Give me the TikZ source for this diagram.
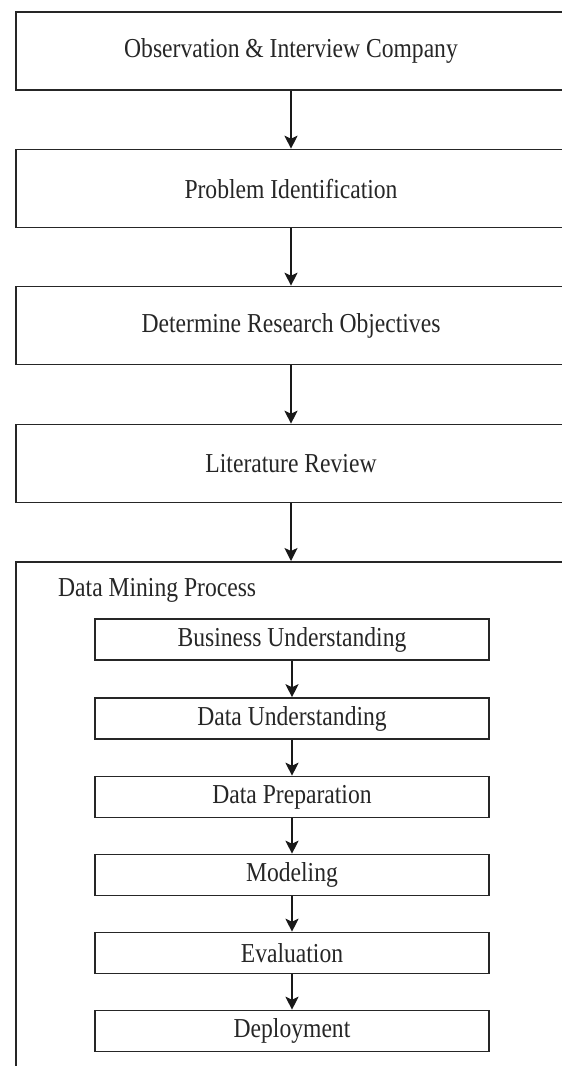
\documentclass[tikz,border=0pt]{standalone}
\usepackage{fontspec}
\setmainfont{Liberation Serif}
\usetikzlibrary{arrows.meta}
\newcommand{\vstr}[1]{\scalebox{1}[1.16]{#1}}
\begin{document}
\begin{tikzpicture}[x=1pt,y=-1pt,
  stepbig/.style={draw=black!85, line width=1.6pt, minimum width=550pt, minimum height=78pt,
    inner sep=0pt, text=black!85, font=\fontsize{23.6}{28}\selectfont},
  stepsmall/.style={draw=black!85, line width=1.6pt, minimum width=394pt, minimum height=41pt,
    inner sep=0pt, text=black!85, font=\fontsize{23.6}{28}\selectfont},
  container/.style={draw=black!85, line width=1.6pt, minimum width=550pt, minimum height=560pt, inner sep=0pt},
  titletext/.style={text=black!85, font=\fontsize{23.6}{28}\selectfont, inner sep=0pt},
  arr/.style={-{Stealth[length=13pt,width=13pt,inset=3pt]}, line width=1.6pt, draw=black!90}]
\useasboundingbox (0,0) rectangle (562,1066);
\clip (0,0) rectangle (562,1066);
\fill[white] (0,0) rectangle (562,1066);

\node[stepbig] (obs)  at (291,51)    {\vstr{Observation \& Interview Company}};
\node[stepbig] (prob) at (291,188.5) {\vstr{Problem Identification}};
\node[stepbig] (obj)  at (291,325.5) {\vstr{Determine Research Objectives}};
\node[stepbig] (lit)  at (291,463.5) {\vstr{Literature Review}};

\node[container, anchor=north] (dm) at (291,561) {};
\node[titletext, anchor=west] (title) at (58,590) {\vstr{Data Mining Process}};

\node[stepsmall] (bu)  at (292,639.5) {\vstr{Business Understanding}};
\node[stepsmall] (du)  at (292,718.5) {\vstr{Data Understanding}};
\node[stepsmall] (dp)  at (292,797)   {\vstr{Data Preparation}};
\node[stepsmall] (mod) at (292,875)   {\vstr{Modeling}};
\node[stepsmall] (ev)  at (292,953)   {\vstr{Evaluation}};
\node[stepsmall] (dep) at (292,1031)  {\vstr{Deployment}};

\draw[arr] (obs.south) -- (prob.north);
\draw[arr] (prob.south) -- (obj.north);
\draw[arr] (obj.south) -- (lit.north);
\draw[arr] (lit.south) -- (dm.north);
\draw[arr] (bu.south) -- (du.north);
\draw[arr] (du.south) -- (dp.north);
\draw[arr] (dp.south) -- (mod.north);
\draw[arr] (mod.south) -- (ev.north);
\draw[arr] (ev.south) -- (dep.north);
\end{tikzpicture}
\end{document}
